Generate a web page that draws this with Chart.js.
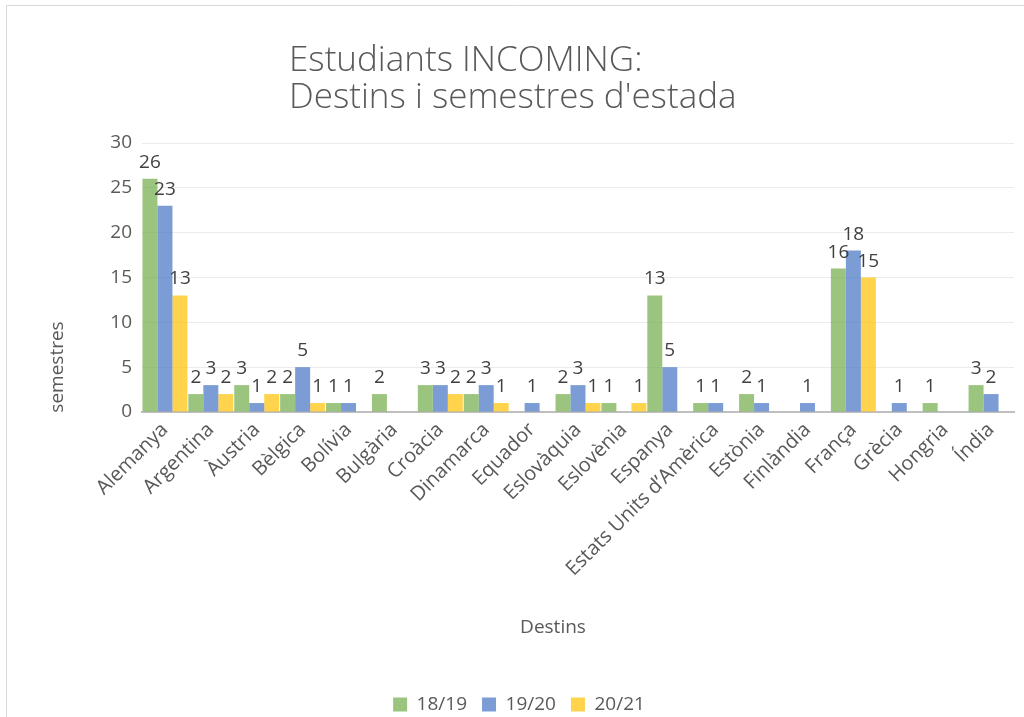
<!DOCTYPE html>
<html>
<head>
<meta charset="utf-8">
<script src="https://cdn.jsdelivr.net/npm/chart.js@4.4.1/dist/chart.umd.min.js"></script>
<style>
  html, body { margin: 0; padding: 0; background: #fff; }
</style>
</head>
<body>
<canvas id="chart" width="1024" height="717"></canvas>
<script>
const destins = ['Alemanya', 'Argentina', 'Àustria', 'Bèlgica', 'Bolívia', 'Bulgària', 'Croàcia',
    'Dinamarca', 'Equador', 'Eslovàquia', 'Eslovènia', 'Espanya', 'Estats Units d\u2019Amèrica',
    'Estònia', 'Finlàndia', 'França', 'Grècia', 'Hongria', 'Índia'];
const curs1819 = [26, 2, 3, 2, 1, 2, 3, 2, null, 2, 1, 13, 1, 2, null, 16, null, 1, 3];
const curs1920 = [23, 3, 1, 5, 1, null, 3, 3, 1, 3, null, 5, 1, 1, 1, 18, 1, null, 2];
const curs2021 = [13, 2, 2, 1, null, null, 2, 1, null, 1, 1, null, null, null, null, 15, null, null, null];
const yTicks = [0, 5, 10, 15, 20, 25, 30];

const titleLines = ['Estudiants INCOMING:', 'Destins i semestres d\'estada'];
const textColor = '#595959';
const fontFamily = '"Open Sans", "DejaVu Sans", sans-serif';

// frame, title and axis titles are painted straight on the canvas
const decorations = {
    id: 'decorations',
    beforeDraw(chart) {
        const ctx = chart.ctx;
        ctx.save();
        ctx.fillStyle = '#ffffff';
        ctx.fillRect(0, 0, chart.width, chart.height);
        ctx.strokeStyle = '#d9d9d9';
        ctx.lineWidth = 1;
        ctx.beginPath();
        ctx.moveTo(6.5, chart.height);
        ctx.lineTo(6.5, 5.5);
        ctx.lineTo(chart.width, 5.5);
        ctx.stroke();
        ctx.restore();
    },
    afterDraw(chart) {
        const ctx = chart.ctx;
        ctx.save();
        ctx.fillStyle = textColor;
        ctx.textBaseline = 'alphabetic';
        ctx.textAlign = 'left';
        ctx.font = '300 35px ' + fontFamily;
        ctx.fillText(titleLines[0], 289, 71);
        ctx.fillText(titleLines[1], 289, 108);

        ctx.font = '19px ' + fontFamily;
        ctx.textAlign = 'center';
        ctx.fillText('Destins', 553, 633);

        ctx.translate(63, 367);
        ctx.rotate(-Math.PI / 2);
        ctx.fillText('semestres', 0, 0);
        ctx.restore();
    }
};

const valueLabels = {
    id: 'valueLabels',
    afterDatasetsDraw(chart) {
        const ctx = chart.ctx;
        ctx.save();
        ctx.font = '19px ' + fontFamily;
        ctx.fillStyle = '#404040';
        ctx.textAlign = 'center';
        ctx.textBaseline = 'alphabetic';
        chart.data.datasets.forEach((ds, i) => {
            chart.getDatasetMeta(i).data.forEach((bar, j) => {
                const v = ds.data[j];
                if (v === null) {
                    return;
                }
                ctx.fillText(String(v), bar.x, bar.y - 11);
            });
        });
        ctx.restore();
    }
};

new Chart(document.getElementById('chart'), {
    type: 'bar',
    data: {
        labels: destins,
        datasets: [
            {label: '18/19', data: curs1819, backgroundColor: 'rgba(112,173,71,0.7)', borderWidth: 0},
            {label: '19/20', data: curs1920, backgroundColor: 'rgba(68,114,196,0.7)', borderWidth: 0},
            {label: '20/21', data: curs2021, backgroundColor: 'rgba(255,192,0,0.7)', borderWidth: 0}
        ]
    },
    options: {
        responsive: false,
        animation: false,
        devicePixelRatio: 1,
        categoryPercentage: 0.98,
        barPercentage: 1.0,
        layout: {padding: {top: 143, right: 10, left: 24, bottom: -7}},
        plugins: {
            title: {display: false},
            tooltip: {enabled: false},
            legend: {
                position: 'bottom',
                labels: {
                    boxWidth: 14,
                    boxHeight: 14,
                    padding: 15,
                    color: textColor,
                    font: {family: fontFamily, size: 19}
                }
            }
        },
        scales: {
            x: {
                afterFit(scale) {
                    scale.height = 268;
                },
                grid: {display: false, drawTicks: false},
                border: {display: true, color: '#bfbfbf', width: 2},
                ticks: {
                    autoSkip: false,
                    minRotation: 45,
                    maxRotation: 45,
                    padding: 6,
                    color: textColor,
                    font: {family: fontFamily, size: 20}
                }
            },
            y: {
                min: 0,
                max: 30,
                afterFit(scale) {
                    scale.width = 118;
                },
                afterBuildTicks(scale) {
                    scale.ticks = yTicks.map(v => ({value: v}));
                },
                grid: {color: '#ebebeb', lineWidth: 1, drawTicks: false},
                border: {display: false},
                ticks: {
                    padding: 10,
                    color: textColor,
                    font: {family: fontFamily, size: 19}
                }
            }
        }
    },
    plugins: [decorations, valueLabels]
});
</script>
</body>
</html>
